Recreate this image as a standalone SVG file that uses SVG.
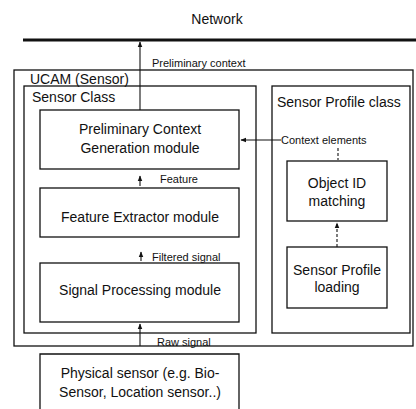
<svg xmlns="http://www.w3.org/2000/svg" width="416" height="409" viewBox="0 0 416 409">
<defs>
<style>
text{font-family:"Liberation Sans",Arial,sans-serif;fill:#111}
.t{font-size:14px}
.s{font-size:11px}
.m{text-anchor:middle}
.b{fill:none;stroke:#111;stroke-width:1.3}
.c{fill:none;stroke:#111;stroke-width:1.1}
.d{fill:none;stroke:#111;stroke-width:1.1;stroke-dasharray:3 2}
</style>
<marker id="ah" viewBox="0 0 10 10" refX="9" refY="5" markerWidth="6" markerHeight="6" orient="auto-start-reverse" markerUnits="userSpaceOnUse">
<path d="M0,1 L10,5 L0,9 Z" fill="#111"/>
</marker>
</defs>
<rect width="416" height="409" fill="#fff"/>
<g id="network">
<text class="t m" x="217" y="24">Network</text>
<line x1="23" y1="40" x2="416" y2="40" stroke="#111" stroke-width="3"/>
</g>
<g id="ucam">
<rect class="b" x="14" y="70" width="399" height="276"/>
<text class="t" x="30" y="84">UCAM (Sensor)</text>
</g>
<g id="sensor-class">
<rect class="b" x="24" y="86" width="232" height="247"/>
<text class="t" x="32" y="102">Sensor Class</text>
</g>
<g id="pcg">
<rect class="b" x="40" y="110" width="199" height="59"/>
<text class="t m" x="140" y="134">Preliminary Context</text>
<text class="t m" x="140" y="153">Generation module</text>
</g>
<g id="fe">
<rect class="b" x="40" y="188" width="199" height="49"/>
<text class="t m" x="140" y="222">Feature Extractor module</text>
</g>
<g id="sp">
<rect class="b" x="40" y="263" width="199" height="59"/>
<text class="t m" x="140" y="295">Signal Processing module</text>
</g>
<g id="physical">
<path class="b" d="M40,409 V354 H239 V409"/>
<text class="t m" x="140" y="378">Physical sensor (e.g. Bio-</text>
<text class="t m" x="140" y="397">Sensor, Location sensor..)</text>
</g>
<g id="spc">
<rect class="b" x="272" y="86" width="138" height="247"/>
<text class="t" x="277" y="107">Sensor Profile class</text>
</g>
<g id="oid">
<rect class="b" x="287" y="161" width="100" height="60"/>
<text class="t m" x="337" y="188">Object ID</text>
<text class="t m" x="337" y="206">matching</text>
</g>
<g id="spl">
<rect class="b" x="287" y="247" width="100" height="61"/>
<text class="t m" x="337" y="275">Sensor Profile</text>
<text class="t m" x="337" y="292">loading</text>
</g>
<g id="connectors">
<line class="c" x1="140" y1="110" x2="140" y2="42" marker-end="url(#ah)"/>
<text class="s" x="152" y="67">Preliminary context</text>
<line class="c" x1="140" y1="186" x2="140" y2="176" marker-end="url(#ah)"/>
<text class="s" x="160" y="183">Feature</text>
<line class="c" x1="141" y1="261" x2="141" y2="252" marker-end="url(#ah)"/>
<text class="s" x="152" y="261">Filtered signal</text>
<line class="c" x1="140" y1="346" x2="140" y2="324" marker-end="url(#ah)"/>
<text class="s" x="157" y="346">Raw signal</text>
<line class="c" x1="281" y1="140" x2="241" y2="140" marker-end="url(#ah)"/>
<text class="s" x="281" y="144">Context elements</text>
<line class="d" x1="338" y1="148" x2="338" y2="160"/>
<line class="d" x1="337" y1="247" x2="337" y2="223" marker-end="url(#ah)"/>
</g>
</svg>
